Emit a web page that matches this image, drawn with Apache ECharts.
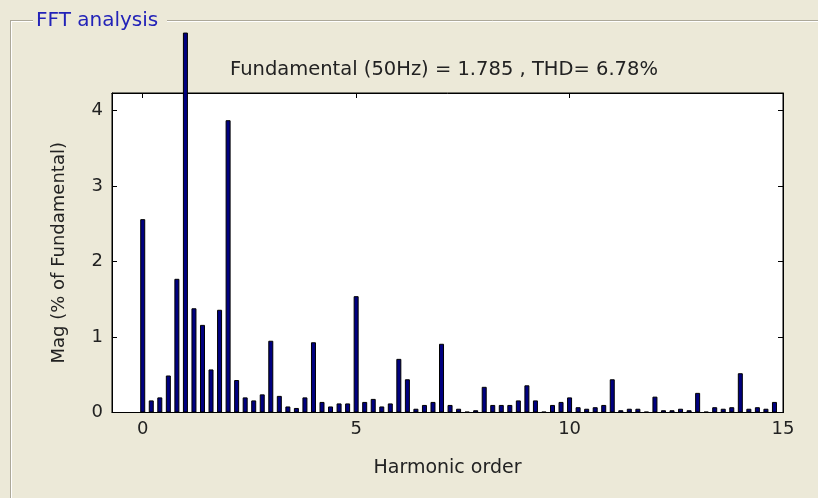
<!DOCTYPE html>
<html>
<head>
<meta charset="utf-8">
<title>FFT analysis</title>
<script src="https://cdn.jsdelivr.net/npm/echarts@6/dist/echarts.min.js"></script>
<style>
  html, body { margin: 0; padding: 0; background: #ECE9D8; }
  #chart { width: 818px; height: 498px; }
</style>
</head>
<body>
<div id="chart"></div>
<script>
// harmonic orders (step 0.2)
var orders = [
    0.0, 0.2, 0.4, 0.6, 0.8, 1.0, 1.2, 1.4, 1.6, 1.8,
    2.0, 2.2, 2.4, 2.6, 2.8, 3.0, 3.2, 3.4, 3.6, 3.8,
    4.0, 4.2, 4.4, 4.6, 4.8, 5.0, 5.2, 5.4, 5.6, 5.8,
    6.0, 6.2, 6.4, 6.6, 6.8, 7.0, 7.2, 7.4, 7.6, 7.8,
    8.0, 8.2, 8.4, 8.6, 8.8, 9.0, 9.2, 9.4, 9.6, 9.8,
    10.0, 10.2, 10.4, 10.6, 10.8, 11.0, 11.2, 11.4, 11.6, 11.8,
    12.0, 12.2, 12.4, 12.6, 12.8, 13.0, 13.2, 13.4, 13.6, 13.8,
    14.0, 14.2, 14.4, 14.6, 14.8
];

// Mag (% of Fundamental)
var mags = [
    2.56, 0.16, 0.20, 0.49, 1.77, 5.03, 1.38, 1.16, 0.57, 1.36,
    3.87, 0.43, 0.20, 0.16, 0.24, 0.95, 0.22, 0.08, 0.06, 0.20,
    0.93, 0.14, 0.08, 0.12, 0.12, 1.54, 0.14, 0.18, 0.08, 0.12,
    0.71, 0.44, 0.05, 0.10, 0.14, 0.91, 0.10, 0.05, 0.01, 0.03,
    0.34, 0.10, 0.10, 0.10, 0.16, 0.36, 0.16, 0.01, 0.10, 0.14,
    0.20, 0.07, 0.05, 0.07, 0.10, 0.44, 0.03, 0.05, 0.05, 0.01,
    0.21, 0.03, 0.03, 0.05, 0.03, 0.26, 0.01, 0.07, 0.05, 0.07,
    0.52, 0.05, 0.07, 0.05, 0.14
];

var xTicks = [0, 5, 10, 15];
var yTicks = [0, 1, 2, 3, 4];

var titleText = 'Fundamental (50Hz) = 1.785 , THD= 6.78%';

var font = 'DejaVu Sans, Verdana, sans-serif';

var pts = [];
for (var i = 0; i < orders.length; i++) {
    pts.push([orders[i], mags[i]]);
}

// 坐标轴公共设置
function xAx(pos, showLabel) {
    return {
        type: 'value',
        position: pos,
        min: -0.72,
        max: 15,
        axisLine: { show: true, onZero: false, lineStyle: { color: '#000', width: 1 } },
        axisTick: { show: true, inside: true, length: 5, customValues: xTicks, lineStyle: { color: '#000' } },
        axisLabel: { show: showLabel, customValues: xTicks, color: '#222', fontSize: 18, fontFamily: font, margin: 8 },
        splitLine: { show: false },
        name: showLabel ? 'Harmonic order' : '',
        nameLocation: 'middle',
        nameGap: 46,
        nameTextStyle: { color: '#222', fontSize: 19, fontFamily: font }
    };
}

function yAx(pos, showLabel) {
    return {
        type: 'value',
        position: pos,
        min: 0,
        max: 4.23,
        axisLine: { show: true, onZero: false, lineStyle: { color: '#000', width: 1 } },
        axisTick: { show: true, inside: true, length: 5, customValues: yTicks, lineStyle: { color: '#000' } },
        axisLabel: { show: showLabel, customValues: yTicks, color: '#222', fontSize: 18, fontFamily: font, margin: 9 },
        splitLine: { show: false },
        name: showLabel ? 'Mag (% of Fundamental)' : '',
        nameLocation: 'middle',
        nameGap: 44,
        nameRotate: 90,
        nameTextStyle: { color: '#222', fontSize: 18, fontFamily: font }
    };
}

var chart = echarts.init(document.getElementById('chart'));

var option = {
    backgroundColor: '#ECE9D8',
    animation: false,
    grid: {
        left: 112,
        top: 93,
        width: 671,
        height: 319.5,
        show: true,
        backgroundColor: '#fff',
        borderColor: '#000',
        borderWidth: 1
    },
    xAxis: [xAx('bottom', true), xAx('top', false)],
    yAxis: [yAx('left', true), yAx('right', false)],
    graphic: [
        // 分组框
        { type: 'line', shape: { x1: 10, y1: 20.5, x2: 33, y2: 20.5 }, style: { stroke: '#ACA899', lineWidth: 1 } },
        { type: 'line', shape: { x1: 11, y1: 21.5, x2: 33, y2: 21.5 }, style: { stroke: '#fff', lineWidth: 1 } },
        { type: 'line', shape: { x1: 167, y1: 20.5, x2: 818, y2: 20.5 }, style: { stroke: '#ACA899', lineWidth: 1 } },
        { type: 'line', shape: { x1: 167, y1: 21.5, x2: 818, y2: 21.5 }, style: { stroke: '#fff', lineWidth: 1 } },
        { type: 'line', shape: { x1: 10.5, y1: 20, x2: 10.5, y2: 498 }, style: { stroke: '#ACA899', lineWidth: 1 } },
        { type: 'line', shape: { x1: 11.5, y1: 21, x2: 11.5, y2: 498 }, style: { stroke: '#fff', lineWidth: 1 } },
        {
            type: 'text', x: 36, y: 21,
            style: { text: 'FFT analysis', fill: '#2323B8', font: '20px ' + font, textVerticalAlign: 'middle' }
        },
        {
            type: 'text', x: 444, y: 70,
            style: { text: titleText, fill: '#222', font: '19.5px ' + font, textAlign: 'center', textVerticalAlign: 'middle' }
        }
    ],
    series: [{
        type: 'bar',
        xAxisIndex: 0,
        yAxisIndex: 0,
        data: pts,
        barWidth: 5,
        clip: false,
        itemStyle: { color: '#000080', borderColor: '#000', borderWidth: 1 }
    }]
};

chart.setOption(option);
</script>
</body>
</html>
